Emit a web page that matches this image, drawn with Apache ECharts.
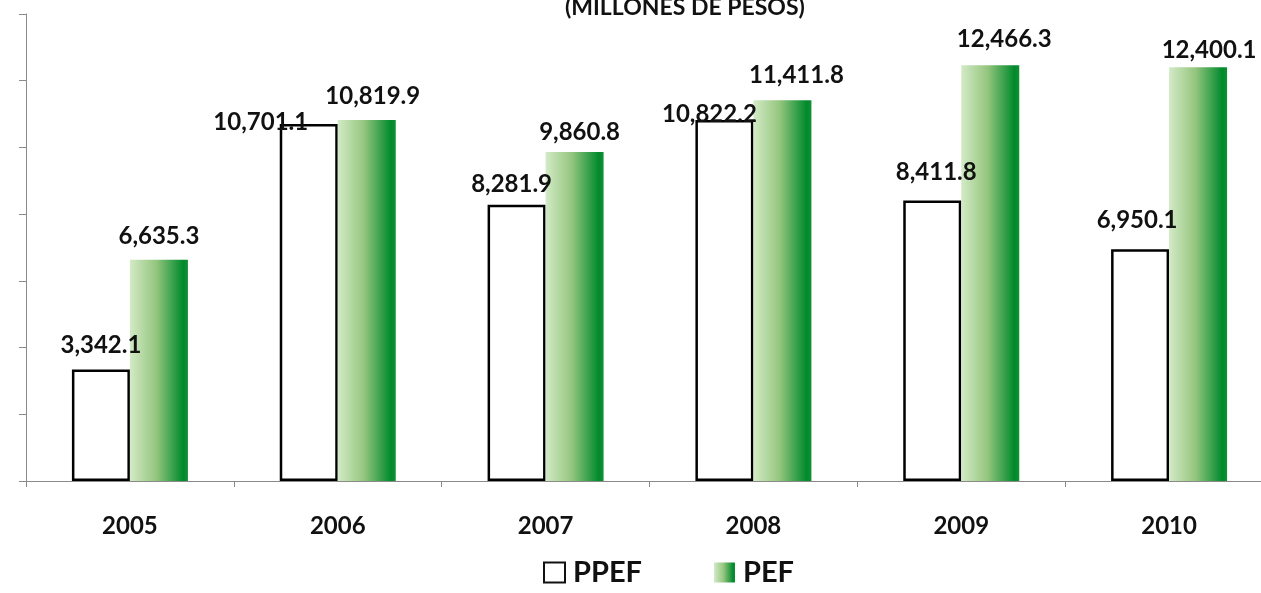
<!DOCTYPE html>
<html>
<head>
<meta charset="utf-8">
<script src="https://cdn.jsdelivr.net/npm/echarts@6/dist/echarts.min.js"></script>
<style>
html,body{margin:0;padding:0;background:#fff;overflow:hidden;}
#chart{width:1261px;height:593px;}
</style>
</head>
<body>
<div id="chart"></div>
<script>
const categories = ['2005', '2006', '2007', '2008', '2009', '2010'];
const ppefValues = [3342.1, 10701.1, 8281.9, 10822.2, 8411.8, 6950.1];
const pefValues = [6635.3, 10819.9, 9860.8, 11411.8, 12466.3, 12400.1];
const seriesNames = ['PPEF', 'PEF'];
const subtitle = '(MILLONES DE PESOS)';

const FONT = 'Lato';
const fmt = v => v.toLocaleString('en-US', {minimumFractionDigits: 1, maximumFractionDigits: 1});

const ppefNudge = [[0, 0], [-48, 22], [-5, 4], [-15, 18], [4, -4], [-3, -5]];
const pefNudge = [[0, 1], [6, 0], [5, 4], [14, -1], [14, -2], [11, 7]];

const green = {
  type: 'linear', x: 0, y: 0, x2: 1, y2: 0,
  colorStops: [
    {offset: 0, color: '#d3eac6'},
    {offset: 0.45, color: '#95c67f'},
    {offset: 0.92, color: '#008a2c'},
    {offset: 1, color: '#138f36'}
  ]
};

const labelBase = {
  show: true, position: 'top', distance: 12,
  fontFamily: FONT, fontWeight: 'bold', fontSize: 24, color: '#111',
  formatter: p => fmt(p.value)
};

const chart = echarts.init(document.getElementById('chart'));
chart.setOption({
  animation: false,
  backgroundColor: '#fff',
  graphic: [{
    type: 'text', left: 565, top: -4,
    style: {text: subtitle, fontFamily: FONT, fontWeight: 'bold', fontSize: 23, fill: '#111'}
  }],
  legend: {
    top: 553, left: 538, itemGap: 72, itemWidth: 21, itemHeight: 20,
    textStyle: {fontFamily: FONT, fontWeight: 'bold', fontSize: 29, color: '#111', padding: [0, 0, 0, 3]},
    data: [
      {name: seriesNames[0], icon: 'rect', itemStyle: {color: '#fff', borderColor: '#111', borderWidth: 2}},
      {name: seriesNames[1], icon: 'rect'}
    ]
  },
  grid: {left: 26, top: 14, right: -12, bottom: 112, containLabel: false, outerBoundsMode: 'none'},
  xAxis: {
    type: 'category', data: categories,
    axisLine: {lineStyle: {color: '#8a8a8a', width: 1}},
    axisTick: {show: true, length: 6, lineStyle: {color: '#8a8a8a'}},
    axisLabel: {margin: 33, fontFamily: FONT, fontWeight: 'bold', fontSize: 24, color: '#111'}
  },
  yAxis: {
    type: 'value', min: 0, max: 14000, interval: 2000,
    axisLine: {show: true, lineStyle: {color: '#8a8a8a', width: 1}},
    axisTick: {show: true, length: 7, lineStyle: {color: '#8a8a8a'}},
    axisLabel: {show: false},
    splitLine: {show: false}
  },
  series: [
    {
      name: seriesNames[0], type: 'bar', barWidth: 58, barGap: '0%',
      itemStyle: {color: '#fff', borderColor: '#000', borderWidth: 2.5},
      data: ppefValues.map((v, i) => ({value: v, label: {offset: ppefNudge[i]}})),
      label: labelBase
    },
    {
      name: seriesNames[1], type: 'bar', barWidth: 58, barGap: '0%',
      itemStyle: {color: green},
      data: pefValues.map((v, i) => ({value: v, label: {offset: pefNudge[i]}})),
      label: labelBase
    }
  ]
});
</script>
</body>
</html>
